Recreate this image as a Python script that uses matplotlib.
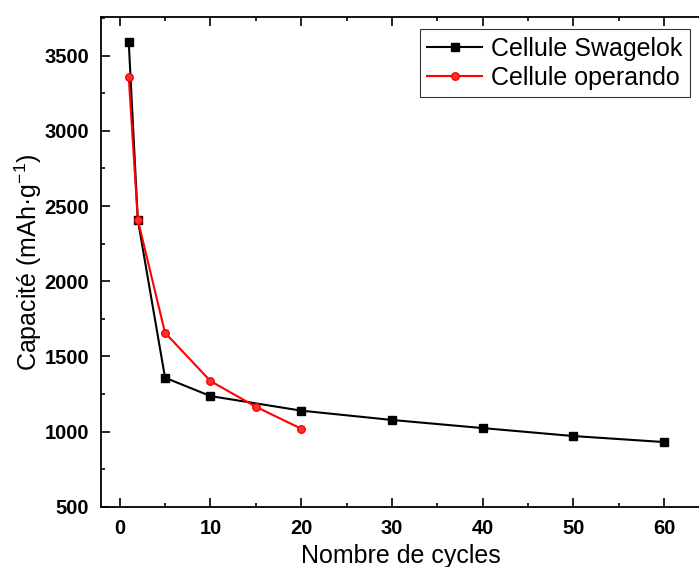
import os
import matplotlib.pyplot as plt
from matplotlib import font_manager as fm
from matplotlib.ticker import MultipleLocator

# Cellule Swagelok
cycles_swag = [1, 2, 5, 10, 20, 30, 40, 50, 60]
cap_swag = [3593, 2409, 1358, 1236, 1139, 1077, 1023, 970, 930]

# Cellule operando
cycles_op = [1, 2, 5, 10, 15, 20]
cap_op = [3358, 2409, 1657, 1336, 1165, 1019]

# pick the real Liberation Sans (not the Narrow variant)
reg_path = None
bold_path = None
for f in fm.findSystemFonts():
    name = os.path.basename(f)
    if name == 'LiberationSans-Regular.ttf':
        reg_path = f
    elif name == 'LiberationSans-Bold.ttf':
        bold_path = f
if reg_path:
    fm.fontManager.addfont(reg_path)
    fam = fm.FontProperties(fname=reg_path).get_name()
else:
    fam = 'DejaVu Sans'
if bold_path:
    fm.fontManager.addfont(bold_path)
plt.rcParams['font.family'] = [fam, 'DejaVu Sans']
plt.rcParams['mathtext.fontset'] = 'custom'
plt.rcParams['mathtext.rm'] = fam

fig = plt.figure(figsize=(6.99, 5.67), dpi=100)
ax = fig.add_axes([0.1452, 0.1063, 0.857, 0.8632])

ax.plot(cycles_swag, cap_swag, color='black', lw=1.5, marker='s', ms=5.8,
        label='Cellule Swagelok')
ax.plot(cycles_op, cap_op, color='red', lw=1.5, marker='o', ms=5.4,
        markeredgecolor='red', markerfacecolor='#ff3030', label='Cellule operando')

ax.set_xlim(-2, 64)
ax.set_ylim(500, 3755)
ax.xaxis.set_major_locator(MultipleLocator(10))
ax.xaxis.set_minor_locator(MultipleLocator(5))
ax.yaxis.set_major_locator(MultipleLocator(500))
ax.yaxis.set_minor_locator(MultipleLocator(250))

ax.tick_params(which='both', direction='in', top=True, right=False, width=1.2)
ax.tick_params(which='major', length=6.3, labelsize=14.5)
ax.tick_params(which='minor', length=3.2)
ax.tick_params(axis='x', which='major', pad=9)
ax.tick_params(axis='y', which='major', pad=9)
for lbl in ax.get_xticklabels() + ax.get_yticklabels():
    lbl.set_fontweight('bold')
for sp in ax.spines.values():
    sp.set_linewidth(1.3)

ax.set_xlabel('Nombre de cycles', fontsize=18, labelpad=4)
ax.set_ylabel('Capacité (mAh·g$^{\\mathregular{-1}}$)', fontsize=18, labelpad=0)

leg = ax.legend(loc='upper right', fontsize=18, frameon=True, fancybox=False,
                edgecolor='black', borderpad=0.3, handlelength=2.2,
                handletextpad=0.35, labelspacing=0.2, borderaxespad=0.0,
                bbox_to_anchor=(0.9825, 0.976))
leg.get_frame().set_linewidth(0.8)

fig.savefig('out.png', dpi=100)
